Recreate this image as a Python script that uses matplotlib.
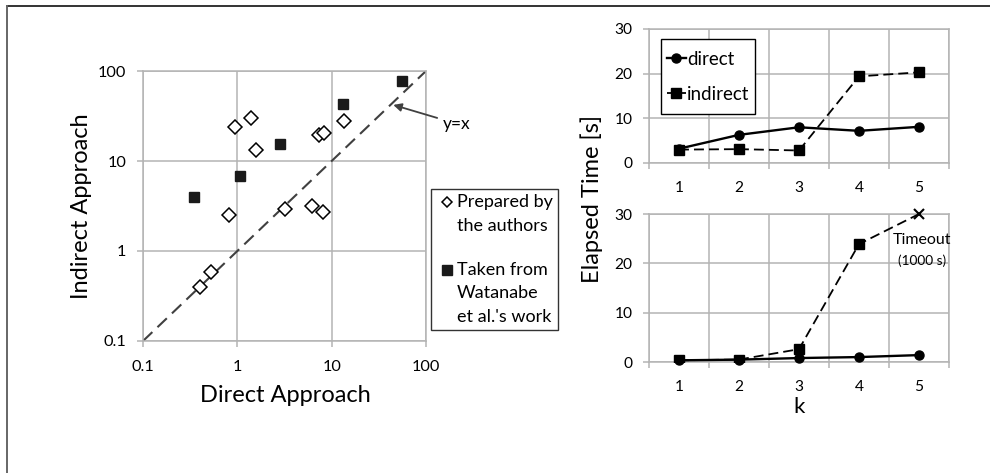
import numpy as np
import matplotlib
matplotlib.use('Agg')
import matplotlib.pyplot as plt
from matplotlib.lines import Line2D
from matplotlib.path import Path
from matplotlib.legend_handler import HandlerLine2D
from matplotlib.ticker import NullLocator, FixedLocator

plt.rcParams['font.family'] = ['Lato', 'DejaVu Sans']

# ── left: direct vs indirect (log-log) ────────────────────────────────────
authors_direct   = [0.95, 1.39, 1.58, 7.3, 8.2, 13.6, 0.81, 3.2, 6.2, 8.0, 0.40, 0.53]
authors_indirect = [24.0, 30.0, 13.2, 19.5, 20.3, 28.0, 2.5, 2.9, 3.2, 2.7, 0.40, 0.59]
watanabe_direct   = [0.35, 1.06, 2.85, 13.2, 56.0]
watanabe_indirect = [4.0, 6.8, 15.5, 43.0, 78.0]
diag_line = [0.1, 100]
log_ticks = [0.1, 1, 10, 100]
log_labels = ['0.1', '1', '10', '100']

# ── right: elapsed time vs k ──────────────────────────────────────────────
k_values     = [1, 2, 3, 4, 5]
top_direct   = [3.2, 6.3, 8.0, 7.2, 8.1]
top_indirect = [3.0, 3.1, 2.8, 19.4, 20.3]
bot_direct   = [0.34, 0.48, 0.8, 1.0, 1.4]
bot_indirect = [0.34, 0.5, 2.6, 23.9, 30.0]   # last = timeout (plotted at 30)
time_ticks = [0, 10, 20, 30]

W, H = 990, 473
GRID = '#b4b4b4'
DARK = '#404040'
LEG_FS = 13
LEG_LS = 1.58


def fx(x):
    return x / W


def fy(y):
    return 1 - y / H


def box(l, t, r, b):
    return [fx(l), fy(b), (r - l) / W, (b - t) / H]


class FirstLineHandler(HandlerLine2D):
    """put the marker next to the first line of a multi-line label"""
    def __init__(self, nlines, **kw):
        super().__init__(**kw)
        self.nlines = nlines

    def create_artists(self, legend, orig_handle, xdescent, ydescent,
                       width, height, fontsize, trans):
        arts = super().create_artists(legend, orig_handle, xdescent, ydescent,
                                      width, height, fontsize, trans)
        shift = (self.nlines - 1) / 2 * 0.836 * fontsize * LEG_LS
        for a in arts:
            a.set_ydata(np.asarray(a.get_ydata()) + shift)
        return arts


def tall_box(x0, y0, width, height, mutation_size):
    # legend frame with extra padding only at top / bottom
    p = 0.3 * mutation_size
    return Path([(x0, y0 - p), (x0 + width, y0 - p), (x0 + width, y0 + height + p),
                 (x0, y0 + height + p), (x0, y0 - p)], closed=True)


fig = plt.figure(figsize=(9.9, 4.73), dpi=100)

# outer frame (only top and left edges visible)
fig.add_artist(Line2D([fx(7), 1], [fy(6), fy(6)], color='#333333', lw=1.4))
fig.add_artist(Line2D([fx(7), fx(7)], [fy(6), 0], color='#666666', lw=1.4))


def style_axes(ax):
    for sp in ax.spines.values():
        sp.set_color(GRID)
        sp.set_linewidth(1.1)
    ax.set_axisbelow(True)
    ax.tick_params(which='both', color=GRID, width=1.1, direction='out')


# ═════ left scatter ═══════════════════════════════════════════════════════
ax = fig.add_axes(box(143, 71, 426, 341))
style_axes(ax)
ax.set_xscale('log')
ax.set_yscale('log')
ax.set_xlim(0.1, 100)
ax.set_ylim(0.1, 100)
ax.xaxis.set_major_locator(FixedLocator(log_ticks))
ax.yaxis.set_major_locator(FixedLocator(log_ticks))
ax.xaxis.set_minor_locator(NullLocator())
ax.yaxis.set_minor_locator(NullLocator())
ax.set_xticklabels(log_labels)
ax.set_yticklabels(log_labels)
ax.tick_params(axis='x', length=4, pad=10, labelsize=11.7)
ax.tick_params(axis='y', length=4, pad=8, labelsize=11.7)
ax.grid(True, color=GRID, lw=1.1)

ax.plot(diag_line, diag_line, color=DARK, lw=1.5, dashes=(6.2, 3.4), zorder=2)
h_auth, = ax.plot(authors_direct, authors_indirect, ls='none', marker='D', ms=6.8,
                  mfc='white', mec='black', mew=1.1, zorder=3,
                  label='Prepared by\nthe authors')
h_wat, = ax.plot(watanabe_direct, watanabe_indirect, ls='none', marker='s', ms=7,
                 mfc='#1a1a1a', mec='#1a1a1a', zorder=3,
                 label="Taken from\nWatanabe\net al.'s work")

ax.annotate('y=x', xy=(45, 42), xytext=(150, 26), textcoords='data',
            fontsize=12.5, ha='left', va='center', annotation_clip=False,
            arrowprops=dict(arrowstyle='-|>', color=DARK, lw=1.3,
                            mutation_scale=12, shrinkA=2, shrinkB=0))

leg = ax.legend(handles=[h_auth, h_wat],
                handler_map={h_auth: FirstLineHandler(2), h_wat: FirstLineHandler(3)},
                loc='upper left', bbox_to_anchor=((431 - 143) / 283, (341 - 189) / 270),
                borderaxespad=0, fontsize=LEG_FS, frameon=True, fancybox=False,
                edgecolor='black', handlelength=1.15, handletextpad=0.0,
                labelspacing=1.55, borderpad=0.3)
leg.get_frame().set_linewidth(1.0)
for t in leg.get_texts():
    t.set_multialignment('left')
    t.set_linespacing(LEG_LS)
# legend markers a bit smaller than the plot markers
for lh, ms in zip(leg.get_lines(), [5.5, 6.5]):
    lh.set_markersize(ms)

fig.text(fx(82), fy(206), 'Indirect Approach', rotation=90, fontsize=17,
         ha='center', va='center')
fig.text(fx(285), fy(395), 'Direct Approach', fontsize=17,
         ha='center', va='center')


# ═════ right line plots ═══════════════════════════════════════════════════
def style_k_axes(ax):
    style_axes(ax)
    ax.set_xlim(0.5, 5.5)
    ax.set_ylim(0, 30)
    ax.xaxis.set_major_locator(FixedLocator(k_values))
    ax.xaxis.set_minor_locator(FixedLocator([k + 0.5 for k in [0] + k_values]))
    ax.yaxis.set_major_locator(FixedLocator(time_ticks))
    ax.tick_params(axis='x', which='major', length=0, pad=13, labelsize=11.2)
    ax.tick_params(axis='x', which='minor', length=4)
    ax.tick_params(axis='y', length=4, pad=8, labelsize=11.2)
    ax.grid(True, axis='x', which='minor', color=GRID, lw=1.1)
    ax.grid(True, axis='y', which='major', color=GRID, lw=1.1)


ax1 = fig.add_axes(box(649, 29, 949, 163))
style_k_axes(ax1)
ax1.plot(k_values, top_direct, color='black', lw=1.7, marker='o', ms=6.5,
         label='direct', zorder=3)
ax1.plot(k_values, top_indirect, color='black', lw=1.3, dashes=(5.5, 2.8),
         marker='s', ms=7, label='indirect', zorder=3)
leg1 = ax1.legend(loc='upper left', bbox_to_anchor=((661 - 649) / 300, (163 - 45) / 134),
                  borderaxespad=0, fontsize=13.5, frameon=True, fancybox=False,
                  edgecolor='black', framealpha=1, handlelength=1.05,
                  handletextpad=0.05, labelspacing=0.97, borderpad=0.3)
leg1.get_frame().set_linewidth(1.0)
leg1.get_frame().set_boxstyle(tall_box)

ax2 = fig.add_axes(box(649, 214, 949, 362))
style_k_axes(ax2)
ax2.plot(k_values, bot_direct, color='black', lw=1.7, marker='o', ms=6.5,
         zorder=4, clip_on=False)
ax2.plot(k_values, bot_indirect, color='black', lw=1.3, dashes=(5.5, 2.8),
         zorder=3, clip_on=False)
ax2.plot(k_values[:-1], bot_indirect[:-1], ls='none', marker='s', ms=7,
         color='black', zorder=3)
ax2.plot(k_values[-1:], bot_indirect[-1:], ls='none', marker='x', ms=7,
         mew=1.5, color='black', zorder=5, clip_on=False)
ax2.text(5.05, 24.7, 'Timeout', fontsize=11.5, ha='center', va='center')
ax2.text(5.05, 20.5, '(1000 s)', fontsize=9.8, ha='center', va='center')

fig.text(fx(592), fy(199), 'Elapsed Time [s]', rotation=90, fontsize=17,
         ha='center', va='center')
fig.text(fx(799), fy(407), 'k', fontsize=16, ha='center', va='center')

fig.savefig('out.png', dpi=100)
